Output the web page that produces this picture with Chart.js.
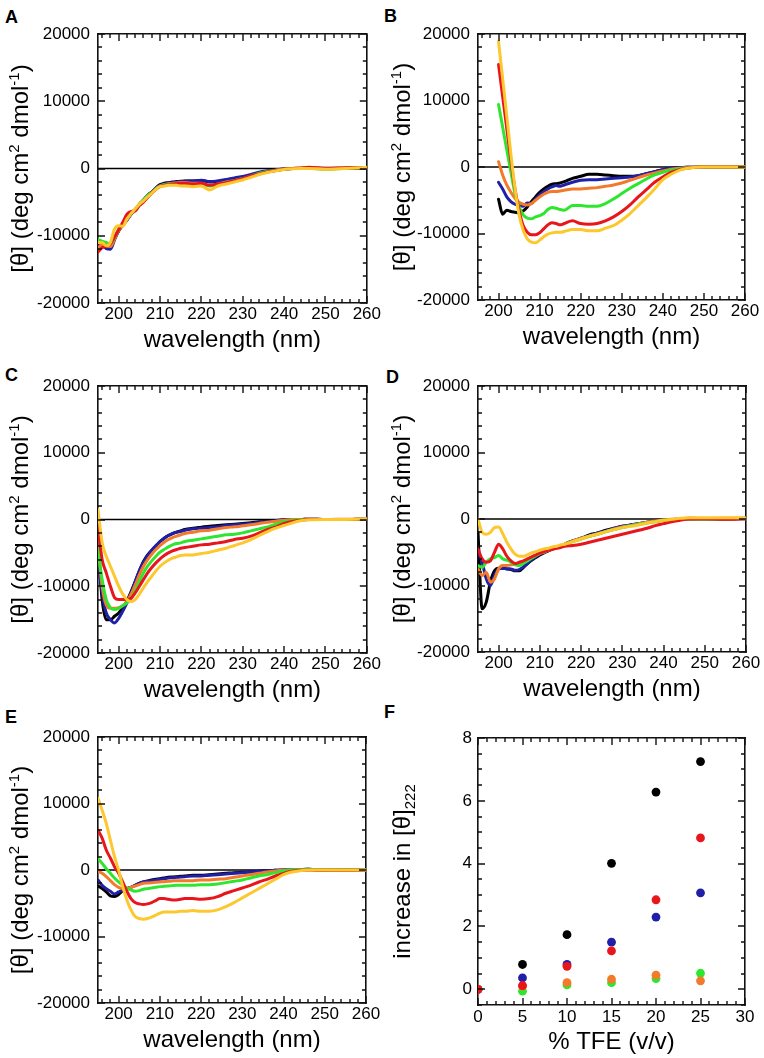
<!DOCTYPE html>
<html><head><meta charset="utf-8">
<script src="https://cdn.jsdelivr.net/npm/chart.js@4/dist/chart.umd.min.js"></script>
<style>
html,body{margin:0;padding:0;background:#fff;}
body{width:764px;height:1058px;position:relative;overflow:hidden;font-family:"Liberation Sans",Arial,sans-serif;}
canvas{position:absolute;display:block;}
.lbl{position:absolute;font-weight:bold;font-size:18px;line-height:18px;color:#000;}
</style></head><body>
<div class="lbl" style="left:5px;top:8px">A</div>
<div class="lbl" style="left:384px;top:7px">B</div>
<div class="lbl" style="left:5px;top:366px">C</div>
<div class="lbl" style="left:386px;top:368px">D</div>
<div class="lbl" style="left:5px;top:708px">E</div>
<div class="lbl" style="left:384px;top:703px">F</div>
<canvas id="cA" width="382" height="352" style="left:0;top:0"></canvas>
<canvas id="cB" width="382" height="352" style="left:382px;top:0"></canvas>
<canvas id="cC" width="382" height="352" style="left:0;top:352px"></canvas>
<canvas id="cD" width="382" height="352" style="left:382px;top:352px"></canvas>
<canvas id="cE" width="382" height="354" style="left:0;top:704px"></canvas>
<canvas id="cF" width="382" height="354" style="left:382px;top:704px"></canvas>
<script>
// ---------------- DATA ----------------
const WL = [195,196,197,198,199,200,201,202,203,204,205,206,207,208,209,210,211,212,213,214,215,216,218,220,222,224,226,228,230,232,234,236,238,240,242,244,246,250,255,260];
const WL_B = [200,201,202,203,204,205,206,207,208,209,210,211,212,213,214,215,216,218,220,222,224,226,228,230,232,234,236,238,240,242,244,246,250,255,260];

const A_BLACK = [-11300,-11000,-11400,-11600,-10400,-9200,-8300,-7600,-6700,-6100,-5300,-4700,-4000,-3500,-2900,-2400,-2200,-2100,-2000,-1950,-1900,-1850,-1850,-1800,-2000,-1900,-1700,-1500,-1300,-1000,-650,-450,-250,-100,0,50,50,0,50,100];
const A_BLUE = [-11500,-11400,-11900,-12000,-10600,-9300,-8400,-7700,-6800,-6200,-5400,-4700,-4000,-3500,-2900,-2500,-2300,-2200,-2100,-2000,-1950,-1900,-1850,-1750,-1950,-1850,-1650,-1400,-1200,-900,-550,-350,-200,-50,0,0,50,50,0,50];
const A_ORANGE = [-11800,-11300,-11500,-11600,-10500,-9200,-8400,-7600,-6700,-6200,-5400,-4800,-4100,-3600,-3000,-2600,-2400,-2300,-2200,-2150,-2100,-2100,-2200,-2200,-2500,-2300,-2000,-1800,-1500,-1200,-800,-500,-300,-100,0,50,0,50,0,100];
const A_GREEN = [-10600,-10800,-11000,-11200,-10300,-9000,-8300,-7500,-6600,-6100,-5300,-4700,-4000,-3600,-3000,-2600,-2400,-2300,-2300,-2300,-2300,-2300,-2400,-2400,-2600,-2400,-2100,-1800,-1500,-1100,-700,-450,-250,-100,0,0,50,-100,50,100];
const A_RED = [-12400,-11800,-11600,-11200,-10200,-9100,-8000,-6800,-6400,-6300,-5500,-5000,-4300,-3700,-3100,-2700,-2500,-2400,-2300,-2250,-2200,-2200,-2300,-2200,-2500,-2300,-2100,-1800,-1500,-1100,-800,-500,-300,-100,0,50,200,0,100,50];
const A_YELLOW = [-11000,-11000,-11500,-11000,-9000,-8500,-8600,-7500,-6700,-6000,-5300,-4800,-4200,-3700,-3100,-2700,-2600,-2500,-2500,-2500,-2600,-2600,-2700,-2600,-3200,-2600,-2300,-2000,-1700,-1300,-900,-600,-350,-150,-50,0,0,-100,0,200];

const B_BLACK = [-4850,-7100,-6500,-6700,-6800,-6900,-6600,-6000,-5200,-4500,-3800,-3300,-2900,-2600,-2500,-2400,-2200,-1700,-1400,-1100,-1100,-1200,-1300,-1400,-1400,-1300,-1000,-700,-400,-200,-100,-50,0,0,0];
const B_BLUE = [-2300,-3300,-4500,-5200,-5600,-5800,-5900,-5400,-5500,-4800,-4200,-3700,-3300,-3000,-2800,-2900,-2700,-2300,-2000,-1900,-1900,-1800,-1700,-1600,-1500,-1300,-1000,-700,-400,-200,-100,-50,0,0,0];
const B_ORANGE = [800,-1200,-2700,-3800,-4700,-5300,-5600,-5700,-5500,-5000,-4500,-4100,-3800,-3700,-3700,-3600,-3500,-3300,-3300,-3200,-3100,-2900,-2700,-2400,-2000,-1600,-1200,-900,-600,-350,-200,-100,0,0,0];
const B_GREEN = [9400,6000,2600,-700,-4000,-6000,-7200,-7700,-7800,-7500,-7300,-7000,-6400,-6100,-6200,-6400,-6500,-5800,-5800,-5900,-5900,-5500,-4800,-4000,-3200,-2500,-1800,-1200,-800,-500,-250,-100,0,0,0];
const B_RED = [15400,10600,5800,1000,-3300,-6500,-8800,-9800,-10200,-10200,-9900,-9300,-8700,-8400,-8500,-8700,-8500,-8100,-8500,-8600,-8500,-8100,-7500,-6700,-5700,-4500,-3400,-2300,-1500,-800,-400,-150,0,0,0];
const B_YELLOW = [18900,13300,7700,2000,-3200,-7200,-9500,-10800,-11300,-11400,-11000,-10500,-10100,-9900,-9800,-9800,-9700,-9400,-9400,-9600,-9600,-9200,-8800,-8000,-7000,-5800,-4600,-3300,-1900,-1100,-500,-200,0,0,0];

const C_BLACK = [-4000,-12000,-15000,-15000,-14500,-14000,-13200,-12200,-10800,-9300,-7700,-6300,-5300,-4600,-4000,-3300,-2800,-2400,-2100,-1900,-1700,-1500,-1300,-1150,-1000,-900,-800,-700,-600,-500,-350,-250,-150,-50,0,0,50,0,0,50];
const C_BLUE = [-6000,-11000,-14000,-15000,-15500,-14800,-13700,-12500,-11000,-9300,-7700,-6400,-5400,-4600,-3900,-3300,-2800,-2400,-2100,-1900,-1800,-1600,-1400,-1300,-1200,-1100,-900,-800,-700,-600,-450,-300,-200,-50,0,0,50,0,0,50];
const C_ORANGE = [-4000,-10000,-12800,-13300,-13300,-13200,-12900,-12300,-11200,-9800,-8300,-7000,-6000,-5200,-4500,-3900,-3400,-3000,-2700,-2500,-2300,-2100,-1900,-1700,-1600,-1400,-1200,-1100,-950,-800,-600,-400,-250,-100,0,0,50,0,50,50];
const C_GREEN = [-4500,-9000,-12000,-13200,-13500,-13300,-12900,-12500,-11800,-10700,-9300,-8000,-7000,-6200,-5500,-4900,-4500,-4100,-3800,-3600,-3500,-3300,-3100,-2900,-2700,-2500,-2300,-2200,-2000,-1700,-1400,-1100,-700,-350,-150,0,0,0,0,50];
const C_RED = [-1000,-6000,-8000,-10000,-11700,-12000,-12000,-12000,-11800,-11000,-10000,-9000,-8000,-7200,-6500,-5900,-5400,-5000,-4700,-4500,-4300,-4200,-4000,-3800,-3700,-3500,-3300,-3000,-2800,-2500,-2000,-1500,-1100,-600,-300,-100,0,0,0,50];
const C_YELLOW = [1500,-3500,-5500,-7000,-8500,-10000,-11200,-12000,-12300,-12000,-11200,-10200,-9300,-8500,-7700,-7000,-6500,-6100,-5800,-5600,-5400,-5300,-5300,-5100,-4900,-4600,-4300,-3900,-3500,-3000,-2400,-1800,-1300,-900,-500,-200,-50,0,0,100];

const D_BLACK = [-2000,-13500,-12500,-9500,-7800,-7400,-7400,-7500,-7600,-7800,-7800,-7300,-6700,-6200,-5800,-5400,-5100,-4800,-4500,-4300,-4100,-3800,-3300,-2900,-2400,-2100,-1700,-1400,-1100,-900,-700,-500,-300,-200,-100,0,100,50,0,100];
const D_BLUE = [-5000,-6500,-9000,-10000,-8500,-7500,-7400,-7500,-7500,-7700,-7600,-7200,-6700,-6100,-5700,-5300,-5000,-4800,-4500,-4300,-4100,-3800,-3300,-2900,-2500,-2100,-1800,-1400,-1100,-900,-700,-500,-300,-200,-100,0,0,0,50,50];
const D_ORANGE = [-7500,-8500,-8000,-9500,-9000,-7500,-7000,-7000,-6900,-6800,-6700,-6400,-6100,-5800,-5500,-5200,-5000,-4700,-4500,-4300,-4200,-3800,-3300,-2900,-2600,-2200,-1900,-1500,-1200,-1000,-700,-500,-300,-150,-50,0,50,50,100,100];
const D_GREEN = [-7000,-7300,-6500,-6000,-5800,-5500,-6000,-6200,-6500,-6900,-7000,-6700,-6300,-5900,-5500,-5100,-4900,-4700,-4500,-4200,-4100,-3800,-3400,-3000,-2600,-2300,-1900,-1600,-1300,-1000,-800,-600,-400,-200,-100,0,0,0,50,50];
const D_RED = [-4500,-6000,-6500,-6300,-5000,-3800,-4500,-5600,-6300,-6700,-6500,-6300,-6000,-5700,-5400,-5100,-4900,-4700,-4600,-4400,-4300,-4100,-4000,-3800,-3500,-3200,-2900,-2600,-2300,-2000,-1700,-1400,-1000,-700,-400,-200,0,50,-50,50];
const D_YELLOW = [0,-2000,-2300,-2000,-1300,-1200,-2200,-3500,-4500,-5300,-5600,-5600,-5400,-5100,-4900,-4700,-4500,-4400,-4200,-4100,-3900,-3800,-3400,-3000,-2600,-2300,-1900,-1600,-1300,-1100,-900,-600,-400,-200,-50,100,200,200,200,150];

const E_BLACK = [-2400,-2800,-3300,-3900,-4000,-3700,-3100,-2800,-2600,-2300,-2000,-1800,-1650,-1500,-1400,-1300,-1200,-1100,-1050,-1000,-950,-900,-800,-800,-700,-600,-500,-400,-350,-300,-200,-100,-50,0,0,50,100,0,0,0];
const E_BLUE = [-1500,-2300,-2800,-3200,-3600,-3300,-3000,-2800,-2600,-2300,-2000,-1800,-1700,-1600,-1500,-1400,-1300,-1200,-1150,-1100,-1050,-1000,-900,-900,-800,-700,-600,-500,-400,-300,-200,-100,-50,0,0,50,100,0,0,0];
const E_ORANGE = [-200,-500,-1000,-1600,-2200,-2600,-2800,-2800,-2600,-2400,-2200,-2000,-1950,-1900,-1850,-1800,-1750,-1700,-1650,-1600,-1600,-1600,-1600,-1500,-1500,-1400,-1300,-1100,-900,-700,-500,-300,-150,-50,0,50,50,0,-50,-50];
const E_GREEN = [1700,1000,200,-500,-1200,-1800,-2300,-2700,-3000,-3200,-3100,-2900,-2800,-2700,-2600,-2500,-2450,-2400,-2350,-2300,-2300,-2300,-2300,-2200,-2200,-2100,-1900,-1700,-1500,-1200,-900,-700,-400,-150,0,50,100,0,0,0];
const E_RED = [6000,4800,3000,1800,500,-500,-1800,-3200,-4300,-4900,-5100,-5200,-5100,-4900,-4600,-4300,-4300,-4400,-4500,-4500,-4400,-4300,-4300,-4400,-4300,-4000,-3500,-3100,-2700,-2300,-1800,-1400,-900,-500,-200,-50,0,-50,-50,-50];
const E_YELLOW = [10800,9000,7000,4500,2000,0,-2500,-4500,-6000,-7000,-7300,-7400,-7300,-7100,-6800,-6500,-6300,-6300,-6300,-6300,-6200,-6200,-6100,-6200,-6200,-6000,-5500,-4900,-4200,-3500,-2800,-2100,-1400,-700,-300,-100,0,0,0,0];

const TFE = [0,5,10,15,20,25];
const F_BLACK = [0,0.79,1.74,4.01,6.28,7.25];
const F_BLUE = [0,0.36,0.79,1.50,2.30,3.07];
const F_RED = [0,0.12,0.73,1.22,2.85,4.82];
const F_GREEN = [0,-0.06,0.14,0.21,0.34,0.51];
const F_ORANGE = [0,0.10,0.21,0.32,0.45,0.27];

const X_TICKS_NM = [200,210,220,230,240,250,260];
const Y_TICKS_THETA = [-20000,-10000,0,10000,20000];
const F_X_TICKS = [0,5,10,15,20,25,30];
const F_Y_TICKS = [0,2,4,6,8];

const X_TITLE_NM = 'wavelength (nm)';
const Y_TITLE_THETA = [{t: '[\u03B8] (deg cm', s: 0}, {t: '2', s: 1}, {t: ' dmol', s: 0}, {t: '-1', s: 1}, {t: ')', s: 0}];
const F_X_TITLE = '% TFE (v/v)';
const F_Y_TITLE = [{t: 'increase in [\u03B8]', s: 0}, {t: '222', s: -1}];

// ---------------- STYLE ----------------
const COL = {black:'#000000', blue:'#1f1fa8', orange:'#f37a2a', green:'#2ee62e', red:'#e8161c', yellow:'#fdc72e'};
const INK = '#111111';
const FAMILY = '"Liberation Sans", Arial, Helvetica, sans-serif';
Chart.defaults.font.family = FAMILY;
Chart.defaults.color = '#000';

function stepList(lo, hi, step) { const out = []; for (let v = lo; v <= hi + 1e-9; v += step) out.push(Math.round(v * 1000) / 1000); return out; }

// Inward major/minor ticks on all four sides + rich (super/subscript) y title
const frameDecor = {
  id: 'frameDecor',
  afterDraw(chart, args, o) {
    const ctx = chart.ctx, a = chart.chartArea, xs = chart.scales.x, ys = chart.scales.y;
    ctx.save();
    ctx.strokeStyle = INK; ctx.lineWidth = 1.4; ctx.lineCap = 'butt';
    ctx.beginPath();
    const h = (list, len) => list.forEach(v => {
      const p = Math.round(xs.getPixelForValue(v));
      ctx.moveTo(p, a.bottom); ctx.lineTo(p, a.bottom - len);
      ctx.moveTo(p, a.top); ctx.lineTo(p, a.top + len);
    });
    const vt = (list, len) => list.forEach(v => {
      const p = Math.round(ys.getPixelForValue(v));
      ctx.moveTo(a.left, p); ctx.lineTo(a.left + len, p);
      ctx.moveTo(a.right, p); ctx.lineTo(a.right - len, p);
    });
    h(o.xMinor, 4); h(o.xMajor, 7); vt(o.yMinor, 4); vt(o.yMajor, 7);
    ctx.stroke();
    ctx.restore();
    // y-axis title with real superscripts / subscripts
    const size = 24, small = 15;
    ctx.save();
    ctx.translate(o.titleX, (a.top + a.bottom) / 2);
    ctx.rotate(-Math.PI / 2);
    ctx.fillStyle = '#000'; ctx.textBaseline = 'alphabetic'; ctx.textAlign = 'left';
    const fontOf = p => (p.s ? small : size) + 'px ' + FAMILY;
    let total = 0;
    const widths = o.yTitle.map(p => { ctx.font = fontOf(p); const w = ctx.measureText(p.t).width; total += w; return w; });
    let x = -total / 2;
    o.yTitle.forEach((p, i) => {
      ctx.font = fontOf(p);
      const dy = p.s === 1 ? -9 : (p.s === -1 ? 5 : 0);
      ctx.fillText(p.t, x, dy);
      x += widths[i];
    });
    ctx.restore();
  }
};

function axis(ax, position, min, max, values, o) {
  return {
    type: 'linear', axis: ax, position, min, max, weight: o.weight || 0,
    grid: {display: false, drawOnChartArea: false, drawTicks: false},
    border: {display: true, color: INK, width: 1.6},
    ticks: {display: !!o.labels, autoSkip: false, maxRotation: 0, minRotation: 0, padding: o.labelPad || 0,
            font: {size: 17}, color: '#000', callback: v => String(v)},
    title: o.title ? {display: true, text: o.title, color: '#000', font: {size: 24, lineHeight: 1}, padding: o.titlePad} : {display: false},
    afterBuildTicks: s => { s.ticks = values.map(v => ({value: v})); },
    afterFit: s => { if (ax === 'x') s.height = o.size || 0; else s.width = o.size || 0; }
  };
}

function buildScales(g) {
  return {
    x: axis('x', 'bottom', g.xmin, g.xmax, g.xMajor, {weight: 1, labels: true, size: g.xH, labelPad: g.xLabPad, title: g.xTitle, titlePad: {top: 0, bottom: g.xTitlePad}}),
    xTop: axis('x', 'top', g.xmin, g.xmax, g.xMajor, {weight: 1}),
    y: axis('y', 'left', g.ymin, g.ymax, g.yMajor, {weight: 1, labels: true, size: g.yW, labelPad: g.yLabPad}),
    yRight: axis('y', 'right', g.ymin, g.ymax, g.yMajor, {weight: 1})
  };
}

function chartOptions(g) {
  return {responsive: false, animation: false, events: [],
    layout: {padding: {top: g.padTop, right: g.padRight, bottom: 0, left: 0}},
    plugins: {legend: {display: false}, tooltip: {enabled: false},
      frameDecor: {xMajor: g.xMajor, xMinor: g.xMinor, yMajor: g.yMajor, yMinor: g.yMinor, yTitle: g.yTitle, titleX: 28}},
    scales: buildScales(g)};
}

function lineDS(xs, ys, color, order) {
  return {data: xs.map((x, i) => ({x: x, y: ys[i]})), borderColor: color, backgroundColor: color, borderWidth: 3,
          pointRadius: 0, fill: false, cubicInterpolationMode: 'monotone', borderJoinStyle: 'round', borderCapStyle: 'round',
          order: order, xAxisID: 'x', yAxisID: 'y'};
}
function zeroDS() {
  return {data: [{x: 195, y: 0}, {x: 260, y: 0}], borderColor: '#000', borderWidth: 1.6, pointRadius: 0, fill: false, order: 10, xAxisID: 'x', yAxisID: 'y'};
}

function cdPanel(id, xs, s, geo) {
  const g = Object.assign({xmin: 195, xmax: 260, ymin: -20000, ymax: 20000,
    xMajor: X_TICKS_NM, xMinor: stepList(196, 260, 2), yMajor: Y_TICKS_THETA, yMinor: stepList(-20000, 20000, 2000),
    xTitle: X_TITLE_NM, yTitle: Y_TITLE_THETA, xLabPad: 1, yLabPad: 8}, geo);
  new Chart(document.getElementById(id), {
    type: 'line',
    data: {datasets: [
      zeroDS(),
      lineDS(xs, s[0], COL.black, 6), lineDS(xs, s[1], COL.blue, 5), lineDS(xs, s[2], COL.orange, 4),
      lineDS(xs, s[3], COL.green, 3), lineDS(xs, s[4], COL.red, 2), lineDS(xs, s[5], COL.yellow, 1)
    ]},
    options: chartOptions(g),
    plugins: [frameDecor]
  });
}

cdPanel('cA', WL, [A_BLACK, A_BLUE, A_ORANGE, A_GREEN, A_RED, A_YELLOW], {padTop: 34, padRight: 15, yW: 98, xH: 49, xTitlePad: 0});
cdPanel('cB', WL_B, [B_BLACK, B_BLUE, B_ORANGE, B_GREEN, B_RED, B_YELLOW], {padTop: 34, padRight: 19, yW: 96, xH: 52, xTitlePad: 3});
cdPanel('cC', WL, [C_BLACK, C_BLUE, C_ORANGE, C_GREEN, C_RED, C_YELLOW], {padTop: 34, padRight: 15, yW: 98, xH: 51, xTitlePad: 2});
cdPanel('cD', WL, [D_BLACK, D_BLUE, D_ORANGE, D_GREEN, D_RED, D_YELLOW], {padTop: 34, padRight: 18, yW: 96, xH: 52, xTitlePad: 3});
cdPanel('cE', WL, [E_BLACK, E_BLUE, E_ORANGE, E_GREEN, E_RED, E_YELLOW], {padTop: 33, padRight: 16, yW: 98, xH: 55, xTitlePad: 6});

function dotDS(ys, color, order) {
  return {data: TFE.map((x, i) => ({x: x, y: ys[i]})), backgroundColor: color, borderColor: color, borderWidth: 0,
          pointRadius: 4.4, showLine: false, order: order, xAxisID: 'x', yAxisID: 'y'};
}
(function () {
  const g = {xmin: 0, xmax: 30, ymin: -0.5, ymax: 8, xMajor: F_X_TICKS, xMinor: stepList(0, 30, 1),
    yMajor: F_Y_TICKS, yMinor: stepList(-0.5, 8, 0.5), xTitle: F_X_TITLE, yTitle: F_Y_TITLE,
    xLabPad: 2, yLabPad: 6, padTop: 34, padRight: 19, yW: 96, xH: 53, xTitlePad: 4};
  new Chart(document.getElementById('cF'), {
    type: 'scatter',
    data: {datasets: [dotDS(F_BLACK, COL.black, 5), dotDS(F_BLUE, COL.blue, 4), dotDS(F_GREEN, COL.green, 3),
                      dotDS(F_ORANGE, COL.orange, 2), dotDS(F_RED, COL.red, 1)]},
    options: chartOptions(g),
    plugins: [frameDecor]
  });
})();
</script>
</body></html>
